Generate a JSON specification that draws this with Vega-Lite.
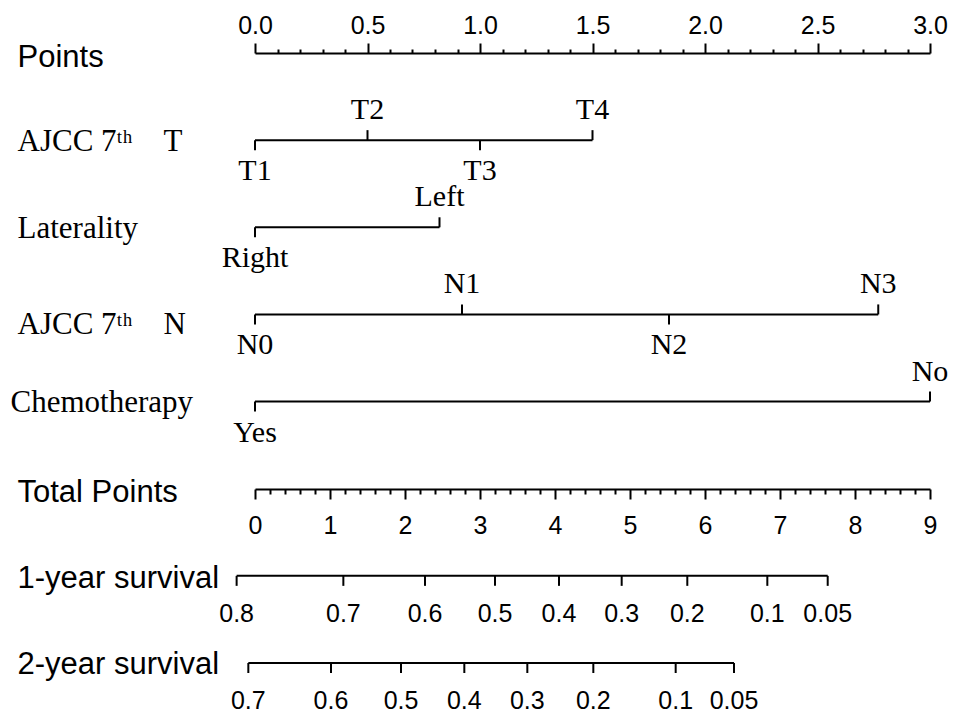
{
  "$schema": "https://vega.github.io/schema/vega-lite/v6.json",
  "width": 675,
  "height": 610,
  "autosize": "none",
  "padding": {"left": 255, "top": 53, "right": 31, "bottom": 52},
  "background": "white",
  "config": {"view": {"stroke": null}},
  "datasets": {
    "levels": [
      {"row": "AJCC 7\u1d57\u02b0\u00a0\u00a0\u00a0\u00a0T", "level": "T1", "pts": 0, "side": "down"},
      {"row": "AJCC 7\u1d57\u02b0\u00a0\u00a0\u00a0\u00a0T", "level": "T2", "pts": 0.5, "side": "up"},
      {"row": "AJCC 7\u1d57\u02b0\u00a0\u00a0\u00a0\u00a0T", "level": "T3", "pts": 1.0, "side": "down"},
      {"row": "AJCC 7\u1d57\u02b0\u00a0\u00a0\u00a0\u00a0T", "level": "T4", "pts": 1.5, "side": "up"},
      {"row": "Laterality", "level": "Right", "pts": 0, "side": "down"},
      {"row": "Laterality", "level": "Left", "pts": 0.82, "side": "up"},
      {"row": "AJCC 7\u1d57\u02b0\u00a0\u00a0\u00a0\u00a0N", "level": "N0", "pts": 0, "side": "down"},
      {"row": "AJCC 7\u1d57\u02b0\u00a0\u00a0\u00a0\u00a0N", "level": "N1", "pts": 0.92, "side": "up"},
      {"row": "AJCC 7\u1d57\u02b0\u00a0\u00a0\u00a0\u00a0N", "level": "N2", "pts": 1.84, "side": "down"},
      {"row": "AJCC 7\u1d57\u02b0\u00a0\u00a0\u00a0\u00a0N", "level": "N3", "pts": 2.77, "side": "up"},
      {"row": "Chemotherapy", "level": "Yes", "pts": 0, "side": "down"},
      {"row": "Chemotherapy", "level": "No", "pts": 3.0, "side": "up"}
    ],
    "survival": [
      {"row": "1-year survival", "prob": "0.8", "tp": -0.245},
      {"row": "1-year survival", "prob": "0.7", "tp": 1.178},
      {"row": "1-year survival", "prob": "0.6", "tp": 2.267},
      {"row": "1-year survival", "prob": "0.5", "tp": 3.2},
      {"row": "1-year survival", "prob": "0.4", "tp": 4.053},
      {"row": "1-year survival", "prob": "0.3", "tp": 4.889},
      {"row": "1-year survival", "prob": "0.2", "tp": 5.764},
      {"row": "1-year survival", "prob": "0.1", "tp": 6.831},
      {"row": "1-year survival", "prob": "0.05", "tp": 7.636},
      {"row": "2-year survival", "prob": "0.7", "tp": -0.089},
      {"row": "2-year survival", "prob": "0.6", "tp": 1.013},
      {"row": "2-year survival", "prob": "0.5", "tp": 1.947},
      {"row": "2-year survival", "prob": "0.4", "tp": 2.791},
      {"row": "2-year survival", "prob": "0.3", "tp": 3.631},
      {"row": "2-year survival", "prob": "0.2", "tp": 4.511},
      {"row": "2-year survival", "prob": "0.1", "tp": 5.609},
      {"row": "2-year survival", "prob": "0.05", "tp": 6.387}
    ]
  },
  "encoding": {
    "y": {
      "field": "row",
      "type": "nominal",
      "scale": {
        "type": "point",
        "padding": 0,
        "domain": ["Points", "AJCC 7\u1d57\u02b0\u00a0\u00a0\u00a0\u00a0T", "Laterality", "AJCC 7\u1d57\u02b0\u00a0\u00a0\u00a0\u00a0N", "Chemotherapy", "Total Points", "1-year survival", "2-year survival"]
      },
      "axis": {
        "title": null,
        "domain": false,
        "ticks": false,
        "grid": false,
        "labelAlign": "left",
        "labelBaseline": "middle",
        "labelPadding": {"condition": {"test": "datum.value === 'Chemotherapy'", "value": 245}, "value": 238},
        "labelOffset": {"condition": [
          {"test": "indexof(datum.value, 'AJCC') === 0 && indexof(datum.value, 'N') > 0", "value": 10},
          {"test": "datum.value === 'Points' || datum.value === 'Total Points'", "value": 4},
          {"test": "datum.value === '1-year survival'", "value": 3}
        ], "value": 1},
        "labelFont": {"condition": {"test": "datum.value === 'Laterality' || datum.value === 'Chemotherapy' || indexof(datum.value, 'AJCC') === 0", "value": "Liberation Serif"}, "value": "Liberation Sans"},
        "labelFontSize": 31,
        "labelColor": "black",
        "labelLimit": 400
      }
    }
  },
  "layer": [
    {
      "data": {"name": "levels"},
      "resolve": {"axis": {"x": "independent"}},
      "layer": [
        {
          "mark": {"type": "rule", "color": "black", "strokeWidth": 2},
          "encoding": {
            "x": {"aggregate": "min", "field": "pts", "type": "quantitative", "scale": {"domain": [0, 3], "nice": false, "zero": false}, "axis": null},
            "x2": {"aggregate": "max", "field": "pts"}
          }
        },
        {
          "transform": [{"filter": "datum.side === 'up'"}],
          "mark": {"type": "tick", "color": "black", "opacity": 1, "size": 10, "thickness": 2, "yOffset": -5},
          "encoding": {
            "x": {
              "field": "pts", "type": "quantitative",
              "scale": {"domain": [0, 3], "nice": false, "zero": false},
              "axis": {
                "orient": "top",
                "title": null,
                "grid": false,
                "values": [0, 0.5, 1, 1.5, 2, 2.5, 3],
                "format": ".1f",
                "tickSize": 10,
                "labelFont": "Liberation Sans",
                "labelFontSize": 25,
                "labelColor": "black",
                "labelPadding": 5,
                "labelFlush": false,
                "labelOverlap": false,
                "domainColor": "black",
                "domainWidth": 2,
                "tickColor": "black",
                "tickWidth": 2
              }
            }
          }
        },
        {
          "transform": [{"filter": "datum.side === 'down'"}],
          "mark": {"type": "tick", "color": "black", "opacity": 1, "size": 10, "thickness": 2, "yOffset": 5},
          "encoding": {
            "x": {
              "field": "pts", "type": "quantitative",
              "scale": {"domain": [0, 3], "nice": false, "zero": false},
              "axis": {
                "orient": "top",
                "title": null,
                "grid": false,
                "domain": false,
                "labels": false,
                "values": [0.1,0.2,0.3,0.4,0.6,0.7,0.8,0.9,1.1,1.2,1.3,1.4,1.6,1.7,1.8,1.9,2.1,2.2,2.3,2.4,2.6,2.7,2.8,2.9],
                "tickSize": 4,
                "tickColor": "black",
                "tickWidth": 2
              }
            }
          }
        },
        {
          "transform": [{"filter": "datum.side === 'up'"}],
          "mark": {"type": "text", "color": "black", "font": "Liberation Serif", "fontSize": 30, "align": "center", "baseline": "alphabetic", "dy": -21},
          "encoding": {
            "x": {"field": "pts", "type": "quantitative", "scale": {"domain": [0, 3], "nice": false, "zero": false}, "axis": null},
            "text": {"field": "level"}
          }
        },
        {
          "transform": [{"filter": "datum.side === 'down'"}],
          "mark": {"type": "text", "color": "black", "font": "Liberation Serif", "fontSize": 30, "align": "center", "baseline": "alphabetic", "dy": 40},
          "encoding": {
            "x": {"field": "pts", "type": "quantitative", "scale": {"domain": [0, 3], "nice": false, "zero": false}, "axis": null},
            "text": {"field": "level"}
          }
        }
      ]
    },
    {
      "data": {"name": "survival"},
      "resolve": {"axis": {"x": "independent"}},
      "layer": [
        {
          "mark": {"type": "rule", "color": "black", "strokeWidth": 2},
          "encoding": {
            "x": {"aggregate": "min", "field": "tp", "type": "quantitative", "scale": {"domain": [0, 9], "nice": false, "zero": false}, "axis": null},
            "x2": {"aggregate": "max", "field": "tp"}
          }
        },
        {
          "mark": {"type": "tick", "color": "black", "opacity": 1, "size": 10, "thickness": 2, "yOffset": 5},
          "encoding": {
            "x": {
              "field": "tp", "type": "quantitative",
              "scale": {"domain": [0, 9], "nice": false, "zero": false},
              "axis": {
                "orient": "bottom",
                "offset": -174,
                "title": null,
                "grid": false,
                "values": [0, 1, 2, 3, 4, 5, 6, 7, 8, 9],
                "format": "d",
                "tickSize": 10,
                "labelFont": "Liberation Sans",
                "labelFontSize": 25,
                "labelColor": "black",
                "labelPadding": 14,
                "labelFlush": false,
                "labelOverlap": false,
                "domainColor": "black",
                "domainWidth": 2,
                "tickColor": "black",
                "tickWidth": 2
              }
            }
          }
        },
        {
          "mark": {"type": "text", "color": "black", "font": "Liberation Sans", "fontSize": 25, "align": "center", "baseline": "alphabetic", "dy": 46},
          "encoding": {
            "x": {
              "field": "tp", "type": "quantitative",
              "scale": {"domain": [0, 9], "nice": false, "zero": false},
              "axis": {
                "orient": "bottom",
                "offset": -174,
                "title": null,
                "grid": false,
                "domain": false,
                "labels": false,
                "values": [0.2,0.4,0.6,0.8,1.2,1.4,1.6,1.8,2.2,2.4,2.6,2.8,3.2,3.4,3.6,3.8,4.2,4.4,4.6,4.8,5.2,5.4,5.6,5.8,6.2,6.4,6.6,6.8,7.2,7.4,7.6,7.8,8.2,8.4,8.6,8.8],
                "tickSize": 5,
                "tickColor": "black",
                "tickWidth": 2
              }
            },
            "text": {"field": "prob"}
          }
        }
      ]
    }
  ],
  "resolve": {"scale": {"x": "independent"}, "axis": {"x": "independent"}}
}
